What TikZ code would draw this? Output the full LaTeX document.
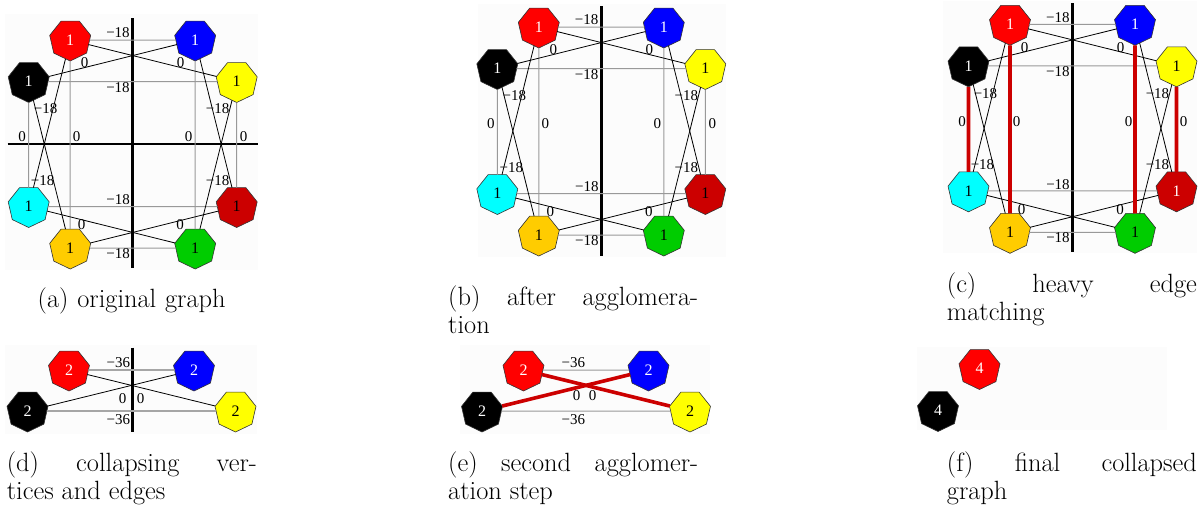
\documentclass[tikz,border=0pt]{standalone}
\usepackage{fontspec}
\newfontfamily\graphfont{Liberation Serif}
\usetikzlibrary{shapes.geometric}
\definecolor{NodeRed}{rgb}{1, 0, 0}
\definecolor{NodeBlue}{rgb}{0, 0, 1}
\definecolor{NodeYellow}{rgb}{1, 1, 0}
\definecolor{NodeCyan}{rgb}{0, 1, 1}
\definecolor{NodeDarkRed}{rgb}{0.8, 0, 0}
\definecolor{NodeGold}{rgb}{1, 0.8, 0}
\definecolor{NodeGreen}{rgb}{0, 0.8, 0}
\definecolor{MatchRed}{rgb}{0.8, 0, 0}
\definecolor{EdgeGray}{gray}{0.6}

% the eight weight-1 vertices, #1 = prefix, #2 = text colour on dark red
\newcommand{\eightnodes}[2]{%
  \node[vertex, fill=NodeRed, text=white] (#1red) at (-62.5,-104) {1};
  \node[vertex, fill=NodeBlue, text=white] (#1blue) at (62.5,-104) {1};
  \node[vertex, fill=black, text=white] (#1black) at (-104,-62.5) {1};
  \node[vertex, fill=NodeYellow] (#1yellow) at (104,-62.5) {1};
  \node[vertex, fill=NodeCyan] (#1cyan) at (-104,62.5) {1};
  \node[vertex, fill=NodeDarkRed, text=#2] (#1darkred) at (104,62.5) {1};
  \node[vertex, fill=NodeGold] (#1gold) at (-62.5,104) {1};
  \node[vertex, fill=NodeGreen] (#1green) at (62.5,104) {1};
}
% edges between them
\newcommand{\eightedges}[1]{%
  \draw[plainedge] (#1red) -- (#1blue);
  \draw[plainedge] (#1black) -- (#1yellow);
  \draw[plainedge] (#1cyan) -- (#1darkred);
  \draw[plainedge] (#1gold) -- (#1green);
  \draw[plainedge] (#1black) -- (#1cyan);
  \draw[plainedge] (#1red) -- (#1gold);
  \draw[plainedge] (#1blue) -- (#1green);
  \draw[plainedge] (#1yellow) -- (#1darkred);
  \draw[crossedge] (#1red) -- (#1yellow);
  \draw[crossedge] (#1black) -- (#1blue);
  \draw[crossedge] (#1black) -- (#1gold);
  \draw[crossedge] (#1red) -- (#1cyan);
  \draw[crossedge] (#1blue) -- (#1darkred);
  \draw[crossedge] (#1yellow) -- (#1green);
  \draw[crossedge] (#1cyan) -- (#1green);
  \draw[crossedge] (#1gold) -- (#1darkred);
}
% edge weights
\newcommand{\eightweights}[1]{%
  \node[weight] (#1w1) at (-14.7,-111) {−18};
  \node[weight] (#1w2) at (-14.7,-56.5) {−18};
  \node[weight] (#1w3) at (-48,-81) {0};
  \node[weight] (#1w4) at (48,-81) {0};
  \node[weight] (#1w5) at (-87,-35) {−18};
  \node[weight] (#1w6) at (85,-35) {−18};
  \node[weight] (#1w7) at (-110.5,-7) {0};
  \node[weight] (#1w8) at (-56,-7) {0};
  \node[weight] (#1w9) at (56,-7) {0};
  \node[weight] (#1w10) at (111,-7) {0};
  \node[weight] (#1w11) at (-90,36.5) {−18};
  \node[weight] (#1w12) at (85,36.5) {−18};
  \node[weight] (#1w13) at (-14.5,56) {−18};
  \node[weight] (#1w14) at (-14.5,109.5) {−18};
  \node[weight] (#1w15) at (-51,81) {0};
  \node[weight] (#1w16) at (47.5,81) {0};
}

\begin{document}
\begin{tikzpicture}[x=1pt, y=-1pt,
    vertex/.style={regular polygon, regular polygon sides=7, shape border rotate=180,
        draw=black!80, line width=0.6pt, minimum size=42pt, inner sep=0pt,
        outer sep=0pt, font=\graphfont\fontsize{16}{16}\selectfont},
    plainedge/.style={EdgeGray, line width=1pt},
    crossedge/.style={black, line width=0.8pt},
    matchedge/.style={MatchRed, line width=3.6pt},
    axisline/.style={black, line width=2.6pt},
    weight/.style={font=\graphfont\fontsize{15}{15}\selectfont, inner sep=0pt},
    panelbg/.style={fill=black!1},
    caption/.style={font=\fontsize{26.4}{28}\selectfont, text width=250pt,
        align=justify, inner sep=0pt, anchor=base west},
]
\useasboundingbox (0,0) rectangle (1203,514);

% faint panel backgrounds
\fill[panelbg] (5,14) rectangle (258,270);
\fill[panelbg] (478,4) rectangle (726,257);
\fill[panelbg] (943,1) rectangle (1197,253);
\fill[panelbg] (5,345) rectangle (257,434);
\fill[panelbg] (460,345) rectangle (710,434);
\fill[panelbg] (917,347) rectangle (1167,430);

% (a) original graph
\begin{scope}[shift={(132.7,144)}]
  \draw[axisline] (0,-126) -- (0,124);
  \draw[axisline] (-125,0) -- (125,0);
  \eightnodes{a}{black}
  \eightedges{a}
  \eightweights{a}
\end{scope}

% (b) after agglomeration
\begin{scope}[shift={(601.3,131)}]
  \draw[axisline] (0,-125) -- (0,125);
  \eightnodes{b}{black}
  \eightedges{b}
  \eightweights{b}
\end{scope}

% (c) heavy edge matching
\begin{scope}[shift={(1072.5,128.3)}]
  \draw[axisline] (0,-125) -- (0,123.5);
  \eightnodes{c}{white}
  \eightedges{c}
  \draw[matchedge] (cblack) -- (ccyan);
  \draw[matchedge] (cred) -- (cgold);
  \draw[matchedge] (cblue) -- (cgreen);
  \draw[matchedge] (cyellow) -- (cdarkred);
  \eightweights{c}
\end{scope}

% (d) collapsing vertices and edges
\begin{scope}[shift={(131.5,390.5)}]
  \draw[axisline] (0.8,-43) -- (0.8,41);
  \node[vertex, fill=NodeRed, text=white] (dred) at (-62.5,-20.5) {2};
  \node[vertex, fill=NodeBlue, text=white] (dblue) at (62.5,-20.5) {2};
  \node[vertex, fill=black, text=white] (dblack) at (-104,20.5) {2};
  \node[vertex, fill=NodeYellow] (dyellow) at (104,20.5) {2};
  \draw[plainedge, black!35, line width=1.6pt] (dred) -- (dblue);
  \draw[plainedge, black!35, line width=1.6pt] (dblack) -- (dyellow);
  \draw[crossedge] (dred) -- (dyellow);
  \draw[crossedge] (dblack) -- (dblue);
  \node[weight] (dw1) at (-13.2,-28.2) {−36};
  \node[weight] (dw2) at (-13.2,28.8) {−36};
  \node[weight] (dw3) at (-8.8,7.8) {0};
  \node[weight] (dw4) at (9.2,7.8) {0};
\end{scope}

% (e) second agglomeration step
\begin{scope}[shift={(586,390.5)}]
  \node[vertex, fill=NodeRed, text=white] (ered) at (-62.5,-20.5) {2};
  \node[vertex, fill=NodeBlue, text=white] (eblue) at (62.5,-20.5) {2};
  \node[vertex, fill=black, text=white] (eblack) at (-104,20.5) {2};
  \node[vertex, fill=NodeYellow] (eyellow) at (104,20.5) {2};
  \draw[plainedge] (ered) -- (eblue);
  \draw[plainedge] (eblack) -- (eyellow);
  \draw[matchedge] (ered) -- (eyellow);
  \draw[matchedge] (eblack) -- (eblue);
  \node[weight] (ew1) at (-12.7,-28.2) {−36};
  \node[weight] (ew2) at (-12.7,28.8) {−36};
  \node[weight] (ew3) at (-9.3,5.5) {0};
  \node[weight] (ew4) at (6.7,5.5) {0};
\end{scope}

% (f) final collapsed graph
\begin{scope}[shift={(1042,390)}]
  \node[vertex, fill=NodeRed, text=white] (fred) at (-62.5,-21.5) {4};
  \node[vertex, fill=black, text=white] (fblack) at (-104,20.5) {4};
\end{scope}

% captions
\node[caption, align=center] (capa) at (6.5,307) {(a) original graph};
\node[caption] (capb) at (448,305) {(b) after agglomera-\linebreak tion};
\node[caption] (capc) at (946.7,292) {(c) heavy edge\linebreak matching};
\node[caption] (capd) at (6.7,471.7) {(d) collapsing ver-\linebreak tices and edges};
\node[caption] (cape) at (448,471.7) {(e) second agglomer-\linebreak ation step};
\node[caption] (capf) at (946.7,471.7) {(f) final collapsed\linebreak graph};

\end{tikzpicture}
\end{document}
